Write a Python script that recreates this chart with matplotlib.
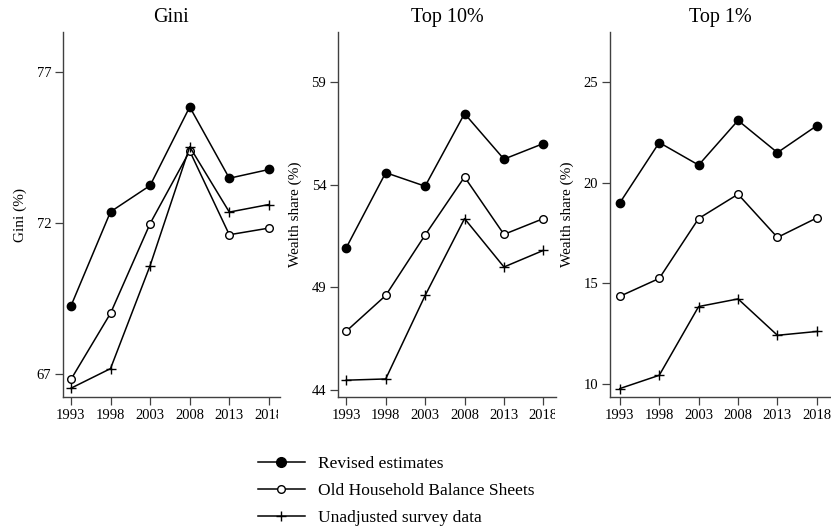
import matplotlib
matplotlib.use("Agg")
import matplotlib.pyplot as plt
from matplotlib.lines import Line2D
from matplotlib.transforms import Bbox, TransformedBbox

plt.rcParams['font.family'] = ['Liberation Serif', 'DejaVu Serif']

years = [1993, 1998, 2003, 2008, 2013, 2018]

# Gini (%)
gini_revised = [69.25, 72.37, 73.24, 75.84, 73.48, 73.77]
gini_old = [66.82, 69.01, 71.98, 74.38, 71.61, 71.83]
gini_survey = [66.53, 67.18, 70.59, 74.52, 72.36, 72.61]

# Top 10% wealth share (%)
top10_revised = [50.92, 54.58, 53.92, 57.46, 55.24, 56.00]
top10_old = [46.85, 48.59, 51.54, 54.37, 51.57, 52.34]
top10_survey = [44.46, 44.52, 48.59, 52.34, 49.98, 50.79]

# Top 1% wealth share (%)
top1_revised = [18.99, 21.99, 20.87, 23.09, 21.49, 22.83]
top1_old = [14.34, 15.23, 18.21, 19.42, 17.27, 18.24]
top1_survey = [9.75, 10.41, 13.83, 14.21, 12.40, 12.59]

series_labels = ["Revised estimates", "Old Household Balance Sheets", "Unadjusted survey data"]

panels = [
    ("Gini", "Gini (%)", [gini_revised, gini_old, gini_survey], [67, 72, 77], (66.24, 78.32)),
    ("Top 10%", "Wealth share (%)", [top10_revised, top10_old, top10_survey], [44, 49, 54, 59], (43.64, 61.44)),
    ("Top 1%", "Wealth share (%)", [top1_revised, top1_old, top1_survey], [10, 15, 20, 25], (9.33, 27.49)),
]

W, H = 831, 529
fig = plt.figure(figsize=(W / 100, H / 100), dpi=100)

# axes boxes in pixels: left, right, top, bottom
boxes = [(63, 280, 32, 397), (338, 556, 32, 397), (610, 831, 32, 397)]
clips = [(0, 278), (280, 555), (555, 831)]
xlims = [(1992.0, 2019.4), (1991.95, 2019.6), (1991.75, 2019.8)]

styles = [
    dict(marker='o', markersize=6, markerfacecolor='black', markeredgecolor='black'),
    dict(marker='o', markersize=5.5, markerfacecolor='white', markeredgecolor='black', markeredgewidth=1.0),
    dict(marker='+', markersize=6.5, markeredgecolor='black', markeredgewidth=1.0),
]

spine_col = '#404040'
for (title, ylabel, data, yt, ylim), (l, r, t, b), (c0, c1), xl in zip(panels, boxes, clips, xlims):
    ax = fig.add_axes([l / W, 1 - b / H, (r - l) / W, (b - t) / H])
    for vals, st in zip(data, styles):
        ax.plot(years, vals, color='black', linewidth=1.1, clip_on=False, **st)
    ax.set_xlim(*xl)
    ax.set_ylim(*ylim)
    ax.set_xticks(years)
    ax.set_yticks(yt)
    ax.spines['top'].set_visible(False)
    ax.spines['right'].set_visible(False)
    for s in ('left', 'bottom'):
        ax.spines[s].set_color(spine_col)
        ax.spines[s].set_linewidth(1.0)
    ax.tick_params(axis='both', direction='out', length=5.5, width=0.9, color=spine_col,
                   labelsize=10.5, pad=3)
    ax.set_title(title, fontsize=14.5, pad=7)
    ax.set_ylabel(ylabel, fontsize=11, labelpad=7)
    clipbox = TransformedBbox(Bbox.from_extents(c0 / W, 0, c1 / W, 1), fig.transFigure)
    for tk in ax.xaxis.get_major_ticks():
        tk.label1.set_clip_on(True)
        tk.label1.set_clip_box(clipbox)

handles = [Line2D([], [], color='black', linewidth=1.1, **st) for st in styles]
handles[0].set_markersize(7)
handles[1].set_markersize(5.5)
fig.legend(handles, series_labels, loc='upper left', bbox_to_anchor=(258 / W, 1 - 456 / H),
           frameon=False, fontsize=12.5, handlelength=2.7, handletextpad=0.75,
           labelspacing=0.62, borderaxespad=0, borderpad=0)

fig.savefig("out.png", dpi=100)
